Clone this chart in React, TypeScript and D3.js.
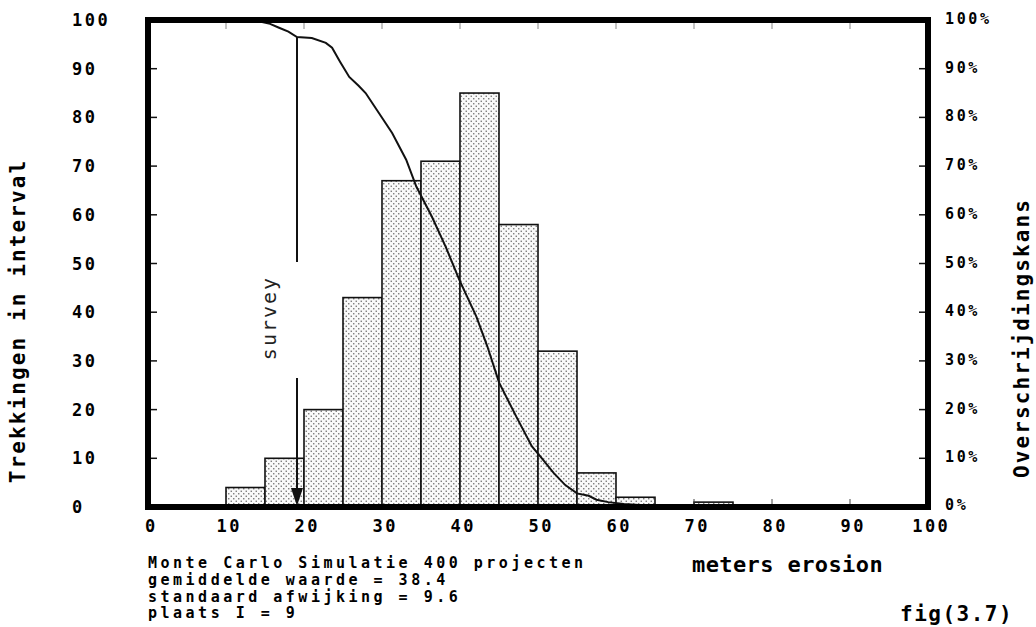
import React from "react";
import * as d3 from "d3";

// ---- data ----
const binStarts = [10, 15, 20, 25, 30, 35, 40, 45, 50, 55, 60, 65, 70];
const binCounts = [4, 10, 20, 43, 67, 71, 85, 58, 32, 7, 2, 0, 1];
const binWidth = 5;

const curveX = [13.5, 15.5, 16.8, 18, 19.1, 21, 22.8, 23.6, 24.6, 25.8, 27, 27.9, 29.6, 31.3, 33.1, 34.4, 36.4, 38.2, 39.9, 42.1, 43.5, 45, 47.2, 49.2, 50.5, 52, 53.5, 55, 56.5, 57.5, 59, 61, 64, 70, 73, 75];
const curvePct = [100, 99.3, 98.4, 97.6, 96.5, 96.3, 95.3, 94.3, 91.5, 88.3, 86.5, 85, 80.9, 76.8, 71.3, 65.8, 59.6, 53.3, 46.7, 39.1, 33, 25.6, 18.6, 12.5, 10, 7, 4.5, 2.8, 2.3, 1.5, 1, 0.6, 0.3, 0.25, 0.2, 0];

const xTicks = [0, 10, 20, 30, 40, 50, 60, 70, 80, 90, 100];
const yTicks = [0, 10, 20, 30, 40, 50, 60, 70, 80, 90, 100];
const pctTicks = [0, 10, 20, 30, 40, 50, 60, 70, 80, 90, 100];

const surveyValue = 19.1;
const surveyLabel = "survey";
const leftTitle = "Trekkingen in interval";
const rightTitle = "Overschrijdingskans";
const xTitle = "meters erosion";
const figLabel = "fig(3.7)";
const infoLines = [
  "Monte Carlo Simulatie 400 projecten",
  "gemiddelde waarde = 38.4",
  "standaard afwijking = 9.6",
  "plaats I = 9",
];

// ---- layout ----
const W = 1036;
const H = 627;
const X0 = 148;
const X1 = 928;
const YT = 20;
const YB = 507;
const MONO = "'DejaVu Sans Mono', 'Liberation Mono', monospace";

export default function App() {
  const x = d3.scaleLinear().domain([0, 100]).range([X0, X1]);
  const y = d3.scaleLinear().domain([0, 100]).range([YB, YT]);
  const yp = d3.scaleLinear().domain([0, 100]).range([YB, YT]);

  const pts: [number, number][] = curveX.map((v, i) => [v, curvePct[i]]);
  const line = d3
    .line<[number, number]>()
    .x((d) => x(d[0]))
    .y((d) => yp(d[1]))
    .curve(d3.curveLinear);

  const sx = x(surveyValue);

  return (
    <svg
      width={W}
      height={H}
      viewBox={`0 0 ${W} ${H}`}
      style={{ position: "absolute", left: 0, top: 0, background: "#fff" }}
    >
      <defs>
        <pattern id="dots" width="5" height="5" patternUnits="userSpaceOnUse">
          <rect width="5" height="5" fill="#fafafa" />
          <rect x="0.6" y="0.6" width="1.3" height="1.3" fill="#666" />
          <rect x="3.1" y="3.1" width="1.3" height="1.3" fill="#666" />
        </pattern>
      </defs>
      <rect width={W} height={H} fill="#fff" />

      {/* bars */}
      {binStarts.map((b, i) =>
        binCounts[i] > 0 ? (
          <rect
            key={b}
            x={x(b)}
            y={y(binCounts[i])}
            width={x(b + binWidth) - x(b)}
            height={y(0) - y(binCounts[i])}
            fill="url(#dots)"
            stroke="#111"
            strokeWidth={1.6}
          />
        ) : null
      )}

      {/* ticks inside frame */}
      {yTicks.slice(1, -1).map((t) => (
        <g key={"yt" + t}>
          <line x1={X0 + 3} x2={X0 + 9} y1={y(t)} y2={y(t)} stroke="#111" strokeWidth={1.5} />
          <line x1={X1 - 9} x2={X1 - 3} y1={y(t)} y2={y(t)} stroke="#111" strokeWidth={1.5} />
        </g>
      ))}
      {xTicks.slice(1, -1).map((t) => (
        <g key={"xt" + t}>
          <line x1={x(t)} x2={x(t)} y1={YT + 3} y2={YT + 9} stroke="#888" strokeWidth={1} />
          <line x1={x(t)} x2={x(t)} y1={YB - 3} y2={YB - 8} stroke="#444" strokeWidth={1} />
        </g>
      ))}

      {/* exceedance curve */}
      <path d={line(pts) || ""} fill="none" stroke="#111" strokeWidth={2} />

      {/* survey arrow */}
      <line x1={sx} x2={sx} y1={yp(96.5)} y2={262} stroke="#111" strokeWidth={2} />
      <line x1={sx} x2={sx} y1={378} y2={490} stroke="#111" strokeWidth={2} />
      <polygon
        points={`${sx - 6},${488} ${sx + 6},${488} ${sx},${YB - 1}`}
        fill="#111"
      />
      <text
        transform={`translate(${sx - 28},318) rotate(-90)`}
        textAnchor="middle"
        dominantBaseline="central"
        fontFamily={MONO}
        fontSize={20}
        letterSpacing={2}
        fill="#222"
      >
        {surveyLabel}
      </text>

      {/* frame */}
      <rect
        x={X0}
        y={YT}
        width={X1 - X0}
        height={YB - YT}
        fill="none"
        stroke="#000"
        strokeWidth={6}
      />

      {/* left tick labels */}
      {yTicks.map((t) => (
        <text
          key={"yl" + t}
          x={72}
          y={y(t)}
          dominantBaseline="central"
          fontFamily={MONO}
          fontWeight="bold"
          fontSize={17}
          letterSpacing={2.5}
          fill="#000"
        >
          {t}
        </text>
      ))}

      {/* right tick labels */}
      {pctTicks.map((t) => (
        <text
          key={"pl" + t}
          x={945}
          y={yp(t) - (t === 0 ? 2 : 1)}
          dominantBaseline="central"
          fontFamily={MONO}
          fontWeight="bold"
          fontSize={15}
          letterSpacing={2.6}
          fill="#000"
        >
          {t + "%"}
        </text>
      ))}

      {/* x tick labels */}
      {xTicks.map((t) => (
        <text
          key={"xl" + t}
          x={x(t) + 2 + 1.25}
          y={532}
          textAnchor="middle"
          fontFamily={MONO}
          fontWeight="bold"
          fontSize={17}
          letterSpacing={2.5}
          fill="#000"
        >
          {t}
        </text>
      ))}

      {/* axis titles */}
      <text
        transform="translate(18,321) rotate(-90)"
        textAnchor="middle"
        dominantBaseline="central"
        fontFamily={MONO}
        fontWeight="bold"
        fontSize={21}
        letterSpacing={2.1}
        fill="#000"
      >
        {leftTitle}
      </text>
      <text
        transform="translate(1022,338) rotate(-90)"
        textAnchor="middle"
        dominantBaseline="central"
        fontFamily={MONO}
        fontWeight="bold"
        fontSize={21}
        letterSpacing={2.1}
        fill="#000"
      >
        {rightTitle}
      </text>
      <text
        x={692}
        y={572}
        fontFamily={MONO}
        fontWeight="bold"
        fontSize={22}
        letterSpacing={0.4}
        fill="#000"
      >
        {xTitle}
      </text>

      {/* info block */}
      {infoLines.map((s, i) => (
        <text
          key={"info" + i}
          x={148}
          y={568 + i * 16.8}
          fontFamily={MONO}
          fontWeight="bold"
          fontSize={15}
          letterSpacing={3.5}
          fill="#000"
          style={{ whiteSpace: "pre" }}
        >
          {s}
        </text>
      ))}

      <text
        x={900}
        y={621}
        fontFamily={MONO}
        fontWeight="bold"
        fontSize={21}
        letterSpacing={1.5}
        fill="#000"
      >
        {figLabel}
      </text>
    </svg>
  );
}
